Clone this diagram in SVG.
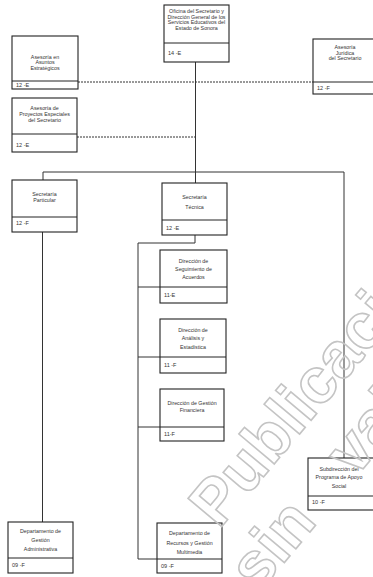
<svg xmlns="http://www.w3.org/2000/svg" width="373" height="577" viewBox="0 0 373 577">
<style>
.bx{fill:#fff;stroke:#222;stroke-width:1.1}
.dv{stroke:#222;stroke-width:1}
.t{font-family:"Liberation Sans",Arial,sans-serif;font-size:5.3px;fill:#333;text-anchor:middle}
.f{font-family:"Liberation Sans",Arial,sans-serif;font-size:5.5px;fill:#333}
.ln{fill:none;stroke:#333;stroke-width:1}
.ds{fill:none;stroke:#333;stroke-width:1;stroke-dasharray:2 1}
.wm{font-family:"Liberation Sans",Arial,sans-serif;font-size:64px;font-weight:bold;fill:none;stroke:#c4c4c4;stroke-width:1.6}
</style>
<rect width="373" height="577" fill="#fff"/>
<g id="connectors">
<path class="ln" d="M195.5 62V183M43 172H344M43 172V180M344 172V458M42.5 232V522"/>
<path class="ln" d="M195 235V243H138V559H157M138 287H160M138 357H160M138 427H160"/>
<path class="ds" d="M78 82H313M77 137H195.5"/>
</g>
<g id="n-oficina">
<rect class="bx" x="164" y="5" width="65" height="57"/><line class="dv" x1="164" y1="43" x2="229" y2="43"/>
<text class="t" x="196.5" y="12.8">Oficina del Secretario y</text>
<text class="t" x="196.5" y="18.6">Dirección General de los</text>
<text class="t" x="196.5" y="24.3">Servicios Educativos del</text>
<text class="t" x="196.5" y="30.1">Estado de Sonora</text>
<text class="f" x="168" y="54.8">14 -E</text>
</g>
<g id="n-estrategicos">
<rect class="bx" x="12" y="36" width="66" height="53"/><line class="dv" x1="12" y1="81" x2="78" y2="81"/>
<text class="t" x="45" y="58.5">Asesoría en</text>
<text class="t" x="45" y="64.1">Asuntos</text>
<text class="t" x="45" y="69.5">Estratégicos</text>
<text class="f" x="16" y="87">12 -E</text>
</g>
<g id="n-juridica">
<rect class="bx" x="313" y="39" width="65" height="55"/><line class="dv" x1="313" y1="82" x2="378" y2="82"/>
<text class="t" x="345" y="49.1">Asesoría</text>
<text class="t" x="345" y="54.5">Jurídica</text>
<text class="t" x="345" y="60.1">del Secretario</text>
<text class="f" x="317" y="90">12 -F</text>
</g>
<g id="n-proyectos">
<rect class="bx" x="12" y="98" width="65" height="54"/><line class="dv" x1="12" y1="134" x2="77" y2="134"/>
<text class="t" x="44.5" y="110">Asesoría de</text>
<text class="t" x="44.5" y="115.8">Proyectos Especiales</text>
<text class="t" x="44.5" y="121.8">del Secretario</text>
<text class="f" x="16" y="146.8">12 -E</text>
</g>
<g id="n-particular">
<rect class="bx" x="12" y="180" width="65" height="52"/><line class="dv" x1="12" y1="217" x2="77" y2="217"/>
<text class="t" x="44.5" y="196">Secretaría</text>
<text class="t" x="44.5" y="201.8">Particular</text>
<text class="f" x="16" y="225">12 -F</text>
</g>
<g id="n-tecnica">
<rect class="bx" x="162" y="183" width="65" height="52"/><line class="dv" x1="162" y1="220" x2="227" y2="220"/>
<text class="t" x="194.5" y="198.8">Secretaría</text>
<text class="t" x="194.5" y="208.5">Técnica</text>
<text class="f" x="166" y="230">12 -E</text>
</g>
<g id="n-seguimiento">
<rect class="bx" x="160" y="250" width="67" height="53"/><line class="dv" x1="160" y1="287" x2="227" y2="287"/>
<text class="t" x="193.5" y="262.8">Dirección de</text>
<text class="t" x="193.5" y="270.8">Seguimiento de</text>
<text class="t" x="193.5" y="278.8">Acuerdos</text>
<text class="f" x="164" y="297">11-E</text>
</g>
<g id="n-analisis">
<rect class="bx" x="160" y="319" width="66" height="54"/><line class="dv" x1="160" y1="357" x2="226" y2="357"/>
<text class="t" x="193" y="331.8">Dirección de</text>
<text class="t" x="193" y="340.3">Análisis y</text>
<text class="t" x="193" y="348.8">Estadística</text>
<text class="f" x="164" y="367">11 -F</text>
</g>
<g id="n-financiera">
<rect class="bx" x="160" y="389" width="64" height="52"/><line class="dv" x1="160" y1="427" x2="224" y2="427"/>
<text class="t" x="192" y="405.3">Dirección de Gestión</text>
<text class="t" x="192" y="412.3">Financiera</text>
<text class="f" x="164" y="436">11-F</text>
</g>
<g id="n-subdireccion">
<rect class="bx" x="308" y="458" width="67" height="52"/><line class="dv" x1="308" y1="496" x2="375" y2="496"/>
<text class="t" x="339" y="470.8">Subdirección del</text>
<text class="t" x="339" y="478.8">Programa de Apoyo</text>
<text class="t" x="339" y="487.8">Social</text>
<text class="f" x="312" y="504">10 -F</text>
</g>
<g id="n-administrativa">
<rect class="bx" x="8" y="522" width="65" height="51"/><line class="dv" x1="8" y1="558" x2="73" y2="558"/>
<text class="t" x="40.5" y="533">Departamento de</text>
<text class="t" x="40.5" y="542">Gestión</text>
<text class="t" x="40.5" y="551">Administrativa</text>
<text class="f" x="12" y="567">09 -F</text>
</g>
<g id="n-multimedia">
<rect class="bx" x="157" y="523" width="65" height="50"/><line class="dv" x1="157" y1="559" x2="222" y2="559"/>
<text class="t" x="189.5" y="535">Departamento de</text>
<text class="t" x="189.5" y="544.5">Recursos y Gestión</text>
<text class="t" x="189.5" y="553.5">Multimedia</text>
<text class="f" x="161" y="567.5">09 -F</text>
</g>
<g id="watermark" transform="translate(219,530) rotate(-50)">
<text class="wm" x="0" y="0">Publicación</text>
<text class="wm" x="-23" y="71" word-spacing="40">sin validez</text>
</g>
</svg>
